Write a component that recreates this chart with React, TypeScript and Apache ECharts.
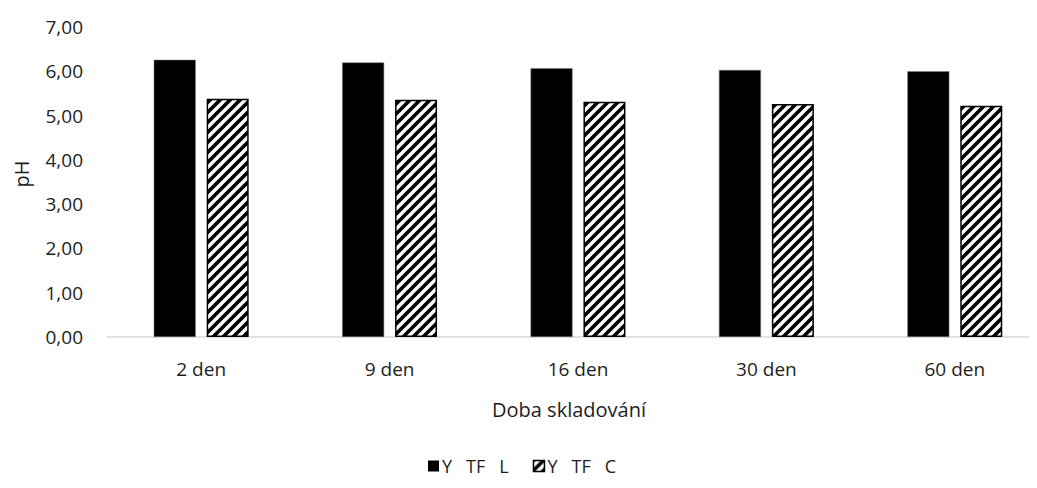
import React, { useEffect, useRef } from "react";
import * as echarts from "echarts";

const categories = ["2 den", "9 den", "16 den", "30 den", "60 den"];
const seriesNames = ["Y   TF   L", "Y   TF   C"];
const valuesL = [6.26, 6.2, 6.07, 6.03, 6.0];
const valuesC = [5.38, 5.36, 5.31, 5.26, 5.22];
const yTicks = { min: 0, max: 7, interval: 1 };

const FONT = "'Open Sans', 'Liberation Sans', sans-serif";
const TEXT = "#1e1e1e";

// Diagonal "/" hatch tile rendered to a data URL
function hatchTile(): string {
  const size = 10;
  const c = document.createElement("canvas");
  c.width = size;
  c.height = size;
  const ctx = c.getContext("2d")!;
  ctx.fillStyle = "#ffffff";
  ctx.fillRect(0, 0, size, size);
  ctx.strokeStyle = "#000000";
  ctx.lineWidth = 3.6;
  ctx.lineCap = "square";
  for (let k = -1; k <= 1; k++) {
    ctx.beginPath();
    ctx.moveTo(k * size - 2, size + 2);
    ctx.lineTo(k * size + size + 2, -2);
    ctx.stroke();
  }
  return c.toDataURL();
}

export default function App() {
  const ref = useRef<HTMLDivElement>(null);
  useEffect(() => {
    if (!ref.current) return;
    const chart = echarts.init(ref.current, undefined, { renderer: "svg" });
    const hatch = { image: hatchTile(), repeat: "repeat" } as any;
    chart.setOption({
      animation: false,
      textStyle: { fontFamily: FONT },
      grid: {
        left: 107,
        top: 27,
        width: 942,
        height: 310,
        outerBoundsMode: "none",
      },
      legend: {
        top: 452,
        left: 423,
        icon: "rect",
        itemWidth: 11,
        itemHeight: 11,
        itemGap: 24,
        textStyle: { fontSize: 18, color: TEXT, fontFamily: FONT, padding: [0, 0, 0, -2] },
        data: [
          { name: seriesNames[0], itemStyle: { color: "#000", borderWidth: 0 } },
          { name: seriesNames[1], itemStyle: { color: hatch, borderColor: "#000", borderWidth: 1.5 } },
        ],
      },
      xAxis: {
        type: "category",
        data: categories,
        name: "Doba skladování",
        nameLocation: "middle",
        nameGap: 62,
        nameTextStyle: { fontSize: 20, color: TEXT, fontFamily: FONT, padding: [0, 18, 0, 0] },
        axisLine: { lineStyle: { color: "#d9d9d9", width: 1.5 } },
        axisTick: { show: false },
        axisLabel: { fontSize: 19, color: TEXT, margin: 22, fontFamily: FONT },
      },
      yAxis: {
        type: "value",
        min: yTicks.min,
        max: yTicks.max,
        interval: yTicks.interval,
        name: "pH",
        nameLocation: "middle",
        nameGap: 76,
        nameTextStyle: { fontSize: 20, color: TEXT, fontFamily: FONT, padding: [0, 0, 0, 16] },
        axisLine: { show: false },
        axisTick: { show: false },
        splitLine: { show: false },
        axisLabel: {
          fontSize: 19,
          color: TEXT,
          margin: 24,
          fontFamily: FONT,
          formatter: (v: number) => v.toFixed(2).replace(".", ","),
        },
      },
      series: [
        {
          name: seriesNames[0],
          type: "bar",
          data: valuesL,
          barWidth: 42,
          barGap: "26%",
          itemStyle: { color: "#000", borderColor: "#7f7f7f", borderWidth: 0.5 },
        },
        {
          name: seriesNames[1],
          type: "bar",
          data: valuesC,
          barWidth: 42,
          itemStyle: { color: hatch, borderColor: "#000", borderWidth: 1.5 },
        },
      ],
    });
    return () => chart.dispose();
  }, []);
  return <div ref={ref} style={{ width: 1037, height: 488, margin: -8 }} />;
}
